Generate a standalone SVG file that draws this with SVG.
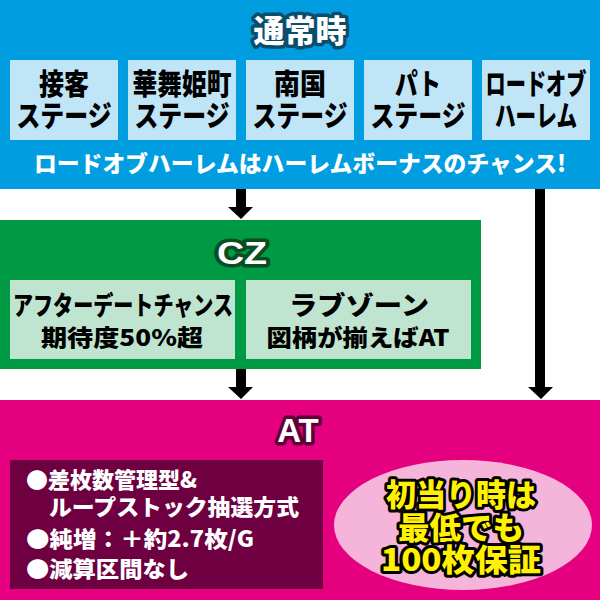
<svg xmlns="http://www.w3.org/2000/svg" width="600" height="600" viewBox="0 0 600 600">
<style>
.jp{font-family:"Noto Sans CJK JP","Noto Sans CJK SC",sans-serif;font-weight:900}
.en{font-family:"Liberation Sans","DejaVu Sans",sans-serif;font-weight:bold}
.c{text-anchor:middle}
.bx{font-size:29px;fill:#000}
.title{fill:#fff;stroke-width:7;stroke-linejoin:round;paint-order:stroke}
.wt{fill:#fff}
.yl{fill:#fff100;stroke:#000;stroke-width:6;stroke-linejoin:round;paint-order:stroke;font-size:31px}
.arrow{fill:#000}
</style>
<g id="normal">
<rect x="0" y="0" width="600" height="189" fill="#009de0"/>
<text class="jp c title" x="300" y="42" font-size="31" stroke="#0a4d6c">通常時</text>
<g id="stage1">
<rect x="10" y="60" width="108" height="80" fill="#bfe5f7"/>
<text class="jp c bx" x="64" y="95" textLength="50" lengthAdjust="spacingAndGlyphs">接客</text>
<text class="jp c bx" x="64" y="127" textLength="95" lengthAdjust="spacingAndGlyphs">ステージ</text>
</g>
<g id="stage2">
<rect x="128" y="60" width="108" height="80" fill="#bfe5f7"/>
<text class="jp c bx" x="182" y="95" textLength="99" lengthAdjust="spacingAndGlyphs">華舞姫町</text>
<text class="jp c bx" x="182" y="127" textLength="95" lengthAdjust="spacingAndGlyphs">ステージ</text>
</g>
<g id="stage3">
<rect x="246" y="60" width="108" height="80" fill="#bfe5f7"/>
<text class="jp c bx" x="300" y="95" textLength="52" lengthAdjust="spacingAndGlyphs">南国</text>
<text class="jp c bx" x="300" y="127" textLength="95" lengthAdjust="spacingAndGlyphs">ステージ</text>
</g>
<g id="stage4">
<rect x="364" y="60" width="108" height="80" fill="#bfe5f7"/>
<text class="jp c bx" x="418" y="95" textLength="46" lengthAdjust="spacingAndGlyphs">パト</text>
<text class="jp c bx" x="418" y="127" textLength="95" lengthAdjust="spacingAndGlyphs">ステージ</text>
</g>
<g id="stage5">
<rect x="482" y="60" width="108" height="80" fill="#bfe5f7"/>
<text class="jp c bx" x="536" y="95" textLength="101" lengthAdjust="spacingAndGlyphs">ロードオブ</text>
<text class="jp c bx" x="536" y="127" textLength="82" lengthAdjust="spacingAndGlyphs">ハーレム</text>
</g>
<text class="jp c wt" x="300" y="172" font-size="23" textLength="532" lengthAdjust="spacingAndGlyphs">ロードオブハーレムはハーレムボーナスのチャンス!</text>
</g>
<g id="cz">
<rect x="0" y="220" width="481" height="149" fill="#009944"/>
<text class="en c title" x="242" y="264" font-size="31" stroke="#0a4d22" textLength="50" lengthAdjust="spacingAndGlyphs">CZ</text>
<g id="afterdate">
<rect x="10" y="280" width="225" height="79" fill="#bfe4cf"/>
<text class="jp c" x="123" y="315" font-size="26" textLength="220" lengthAdjust="spacingAndGlyphs">アフターデートチャンス</text>
<text class="jp c" x="122" y="346" font-size="23" textLength="162" lengthAdjust="spacingAndGlyphs">期待度50%超</text>
</g>
<g id="lovezone">
<rect x="246" y="280" width="225" height="79" fill="#bfe4cf"/>
<text class="jp c" x="359" y="315" font-size="26" textLength="140" lengthAdjust="spacingAndGlyphs">ラブゾーン</text>
<text class="jp c" x="358" y="346" font-size="23" textLength="183" lengthAdjust="spacingAndGlyphs">図柄が揃えばAT</text>
</g>
</g>
<g id="at">
<rect x="0" y="400" width="600" height="200" fill="#e4007f"/>
<text class="en c title" x="298" y="442" font-size="33" stroke="#5c0036">AT</text>
<g id="at-spec">
<rect x="10" y="460" width="313" height="129" fill="#6e0041"/>
<text class="jp wt" x="26" y="488" font-size="22">●差枚数管理型&amp;</text>
<text class="jp wt" x="49" y="515" font-size="22" textLength="250" lengthAdjust="spacingAndGlyphs">ループストック抽選方式</text>
<text class="jp wt" x="26" y="547" font-size="22" textLength="228" lengthAdjust="spacingAndGlyphs">●純増：＋約2.7枚/G</text>
<text class="jp wt" x="26" y="577" font-size="22" textLength="163" lengthAdjust="spacingAndGlyphs">●減算区間なし</text>
</g>
<g id="guarantee">
<ellipse cx="463" cy="525" rx="129" ry="65" fill="#f5b4d9"/>
<text class="jp c yl" x="461" y="506" textLength="150" lengthAdjust="spacingAndGlyphs">初当り時は</text>
<text class="jp c yl" x="461" y="539" textLength="126" lengthAdjust="spacingAndGlyphs">最低でも</text>
<text class="jp c yl" x="461" y="571" textLength="160" lengthAdjust="spacingAndGlyphs">100枚保証</text>
</g>
</g>
<g id="connectors">
<polygon class="arrow" points="236,189 246,189 246,207 253,207 241,219 228,207 236,207"/>
<polygon class="arrow" points="236,369 246,369 246,387 253,387 241,399 228,387 236,387"/>
<polygon class="arrow" points="535,189 545,189 545,387 553,387 541,399 528,387 535,387"/>
</g>
</svg>
